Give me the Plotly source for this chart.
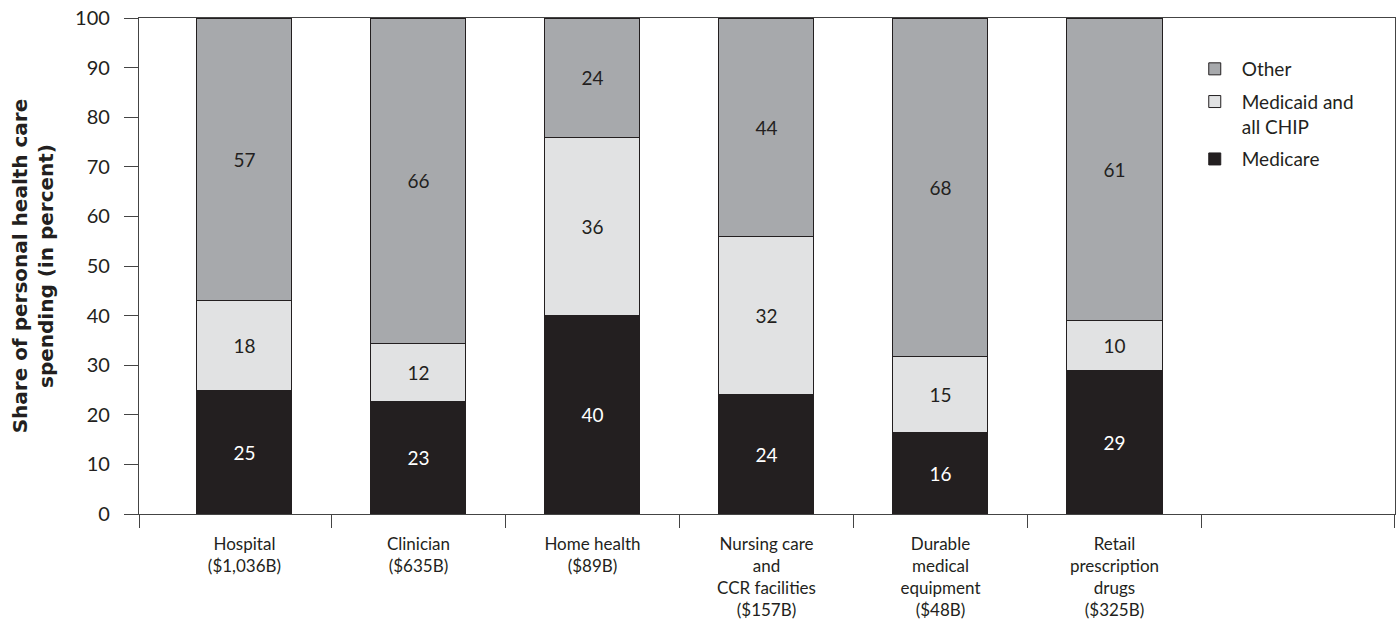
import plotly.graph_objects as go

# ---- data ----
categories = [
    "Hospital<br>($1,036B)",
    "Clinician<br>($635B)",
    "Home health<br>($89B)",
    "Nursing care<br>and<br>CCR facilities<br>($157B)",
    "Durable<br>medical<br>equipment<br>($48B)",
    "Retail<br>prescription<br>drugs<br>($325B)",
]
medicare = [25, 22.6, 40, 24, 16.4, 29]
medicaid = [18, 11.8, 36, 32, 15.4, 10]
other = [57, 65.6, 24, 44, 68.2, 61]

series_names = ["Medicare", "Medicaid and<br>all CHIP", "Other"]
series_values = [medicare, medicaid, other]
series_colors = ["#231f20", "#e1e2e3", "#a7a9ac"]
label_colors = ["#ffffff", "#231f20", "#231f20"]
legend_ranks = [3, 2, 1]

y_ticks = list(range(0, 101, 10))

# ---- figure ----
INK = "#231f20"
FONT = "Lato"
xpos = list(range(len(categories)))
x_range = [-0.606, 6.612]

fig = go.Figure()
for i, (name, vals, col, lc, rk) in enumerate(zip(series_names, series_values, series_colors, label_colors, legend_ranks)):
    fig.add_trace(go.Bar(
        x=xpos, y=vals, name=name,
        marker=dict(color=col, line=dict(color=INK, width=1)),
        width=0.546,
        texttemplate="%{y:.0f}",
        textposition="inside",
        insidetextanchor="middle",
        textangle=0,
        constraintext="none",
        textfont=dict(family=FONT, size=19, color=lc),
        legendgroup=f"g{i}",
        legendrank=rk,
        hoverinfo="skip",
    ))

# invisible helper trace so the boundary-tick axis is drawn
fig.add_trace(go.Scatter(x=[], y=[], xaxis="x2", showlegend=False, hoverinfo="skip"))

boundaries = [x_range[0] + 0.002] + [i + 0.5 for i in range(len(categories))] + [x_range[1] - 0.002]

fig.update_layout(
    width=1397, height=626,
    margin=dict(l=139, r=2, t=18, b=112),
    paper_bgcolor="white", plot_bgcolor="white",
    barmode="stack",
    font=dict(family=FONT, color=INK),
    xaxis=dict(
        range=x_range, automargin=False,
        tickmode="array", tickvals=xpos, ticktext=categories,
        ticks="", tickangle=0, ticklabelstandoff=14,
        tickfont=dict(size=17, color=INK),
        showgrid=False, zeroline=False,
        showline=True, linecolor="#444444", linewidth=1.3, mirror=True,
    ),
    xaxis2=dict(
        overlaying="x", range=x_range, side="bottom", automargin=False,
        tickmode="array", tickvals=boundaries,
        ticks="outside", ticklen=13, tickwidth=1.3, tickcolor="#444444",
        showticklabels=False, showgrid=False, zeroline=False, showline=False,
    ),
    yaxis=dict(
        range=[0, 100], automargin=False,
        tickmode="array", tickvals=y_ticks,
        ticks="outside", ticklen=14, tickwidth=1.3, tickcolor="#444444",
        ticklabelstandoff=10,
        tickfont=dict(size=20, color=INK),
        showgrid=False, zeroline=False,
        showline=True, linecolor="#444444", linewidth=1.3, mirror=True,
        title=dict(text="<b>Share of personal health care<br>spending (in percent)</b>",
                   font=dict(family="DejaVu Sans", size=20, color=INK), standoff=16),
    ),
    legend=dict(
        x=0.835, y=0.9355, xanchor="left", yanchor="top",
        traceorder="grouped", valign="top",
        tracegroupgap=5, itemwidth=44,
        font=dict(family=FONT, size=19, color=INK),
        bgcolor="rgba(0,0,0,0)",
    ),
    showlegend=True,
)

fig.write_html(
    "out.html",
    config={"displayModeBar": False},
    post_script="document.body.style.margin='0';document.body.style.overflow='hidden';",
)
